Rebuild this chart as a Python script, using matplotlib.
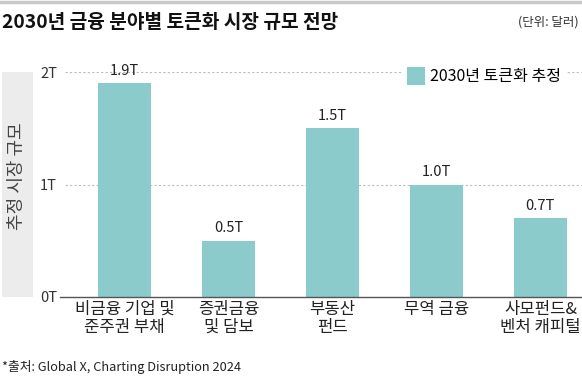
import matplotlib.pyplot as plt
from matplotlib.patches import Rectangle
from matplotlib.lines import Line2D

plt.rcParams['font.family'] = ['Noto Sans CJK KR', 'DejaVu Sans']

categories = ['비금융 기업 및\n준주권 부채', '증권금융\n및 담보', '부동산\n펀드', '무역 금융', '사모펀드&\n벤처 캐피털']
values = [1.9, 0.5, 1.5, 1.0, 0.7]
value_labels = ['1.9T', '0.5T', '1.5T', '1.0T', '0.7T']
yticks = [0, 1, 2]
ytick_labels = ['0T', '1T', '2T']

bar_color = '#8ccbcb'
W, H = 582, 376

fig = plt.figure(figsize=(5.82, 3.76), dpi=100)

# top gray rule
fig.add_artist(Line2D([0, 1], [1 - 1.5 / H, 1 - 1.5 / H], color='#c8c8c8', lw=2.5))

fig.text(2 / W, 1 - 22 / H, '2030년 금융 분야별 토큰화 시장 규모 전망', fontsize=13.8,
         fontweight='bold', va='center', ha='left', color='#111111')
fig.text(579 / W, 1 - 22 / H, '(단위: 달러)', fontsize=9, va='center', ha='right', color='#333333')

# y label box
fig.add_artist(Rectangle((2 / W, 1 - 297 / H), 31 / W, 225 / H, transform=fig.transFigure,
                         facecolor='#ececec', edgecolor='none'))
fig.text(17.5 / W, 1 - 176 / H, '추정 시장 규모', rotation=90, fontsize=13,
         va='center', ha='center', color='#444444')

ax = fig.add_axes([60 / W, 1 - 297 / H, 522 / W, 225 / H])
x = list(range(len(categories)))
ax.bar(x, values, width=0.51, color=bar_color, zorder=2, label='2030년 토큰화 추정')
for xi, v, lab in zip(x, values, value_labels):
    ax.text(xi, v + 0.05, lab, ha='center', va='bottom', fontsize=10.5, color='#222222')

ax.set_xlim(-0.62, 4.40)
ax.set_ylim(0, 2)
for y in [1, 2]:
    ax.axhline(y, xmin=0.01, xmax=1, color='#bbbbbb', lw=0.8, ls=(0, (2, 2)), zorder=1)

ax.set_yticks(yticks)
ax.set_yticklabels(ytick_labels, fontsize=10.5, color='#333333')
ax.set_xticks(x)
ax.set_xticklabels(categories, fontsize=12, color='#222222', linespacing=1.05)
ax.tick_params(axis='both', length=0)
ax.tick_params(axis='y', pad=2)
ax.tick_params(axis='x', pad=3)
for s in ['top', 'right', 'left']:
    ax.spines[s].set_visible(False)
ax.spines['bottom'].set_color('#555555')
ax.spines['bottom'].set_linewidth(1)

leg = ax.legend(loc='upper right', bbox_to_anchor=(0.985, 1.08), frameon=True, fontsize=11.5,
                handlelength=1.1, handleheight=1.4, handletextpad=0.35, borderpad=0.3)
leg.get_frame().set_facecolor('white')
leg.get_frame().set_edgecolor('none')
leg.get_frame().set_alpha(1)

fig.text(2 / W, 1 - 367 / H, '*출처: Global X, Charting Disruption 2024', fontsize=9.2,
         va='center', ha='left', color='#222222')

fig.savefig('out.png', dpi=100)
